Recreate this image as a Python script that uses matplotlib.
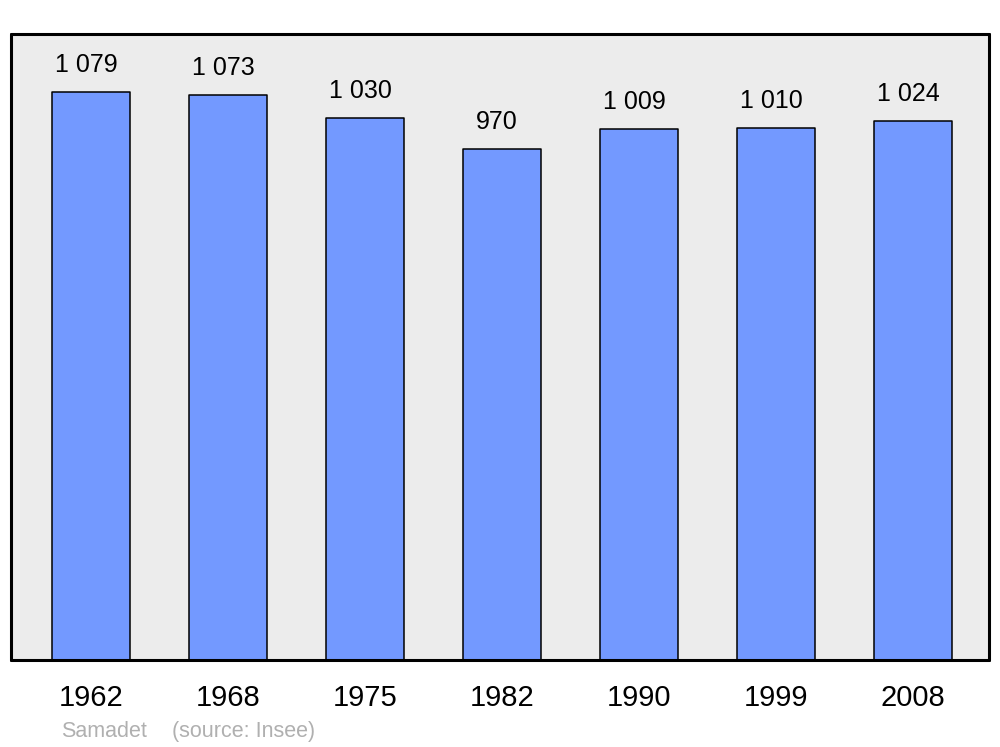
import matplotlib
matplotlib.use("Agg")
from matplotlib import pyplot as plt

years = ["1962", "1968", "1975", "1982", "1990", "1999", "2008"]
population = [1079, 1073, 1030, 970, 1009, 1010, 1024]
value_labels = ["1 079", "1 073", "1 030", "970", "1 009", "1 010", "1 024"]

plt.rcParams["font.family"] = ["Liberation Sans", "DejaVu Sans"]

fig = plt.figure(figsize=(10, 7.47), dpi=100)
ax = fig.add_axes([0.011, 0.1165, 0.978, 0.838])
ax.set_facecolor("#ececec")

x = range(len(years))
bars = ax.bar(x, population, width=0.57, color="#7399ff", edgecolor="black",
              linewidth=1.1, joinstyle="round")
for xi, val, lab in zip(x, population, value_labels):
    ax.annotate(lab, (xi, val), xytext=(-3.5, 19.5), textcoords="offset points",
                ha="center", va="center", fontsize=18)

ax.set_xlim(-0.585, 6.555)
ax.set_ylim(0, 1189)
ax.set_yticks([])
ax.set_xticks(list(x))
ax.set_xticklabels(years, fontsize=21)
ax.tick_params(axis="x", length=0, pad=17)
for s in ax.spines.values():
    s.set_linewidth(2.2)
    s.set_capstyle("round")

fig.text(0.061, 0.021, "Samadet", color="#b0b0b0", fontsize=15.5, va="center")
fig.text(0.172, 0.021, "(source: Insee)", color="#b0b0b0", fontsize=15.5, va="center")

fig.savefig("out.png", dpi=100)
